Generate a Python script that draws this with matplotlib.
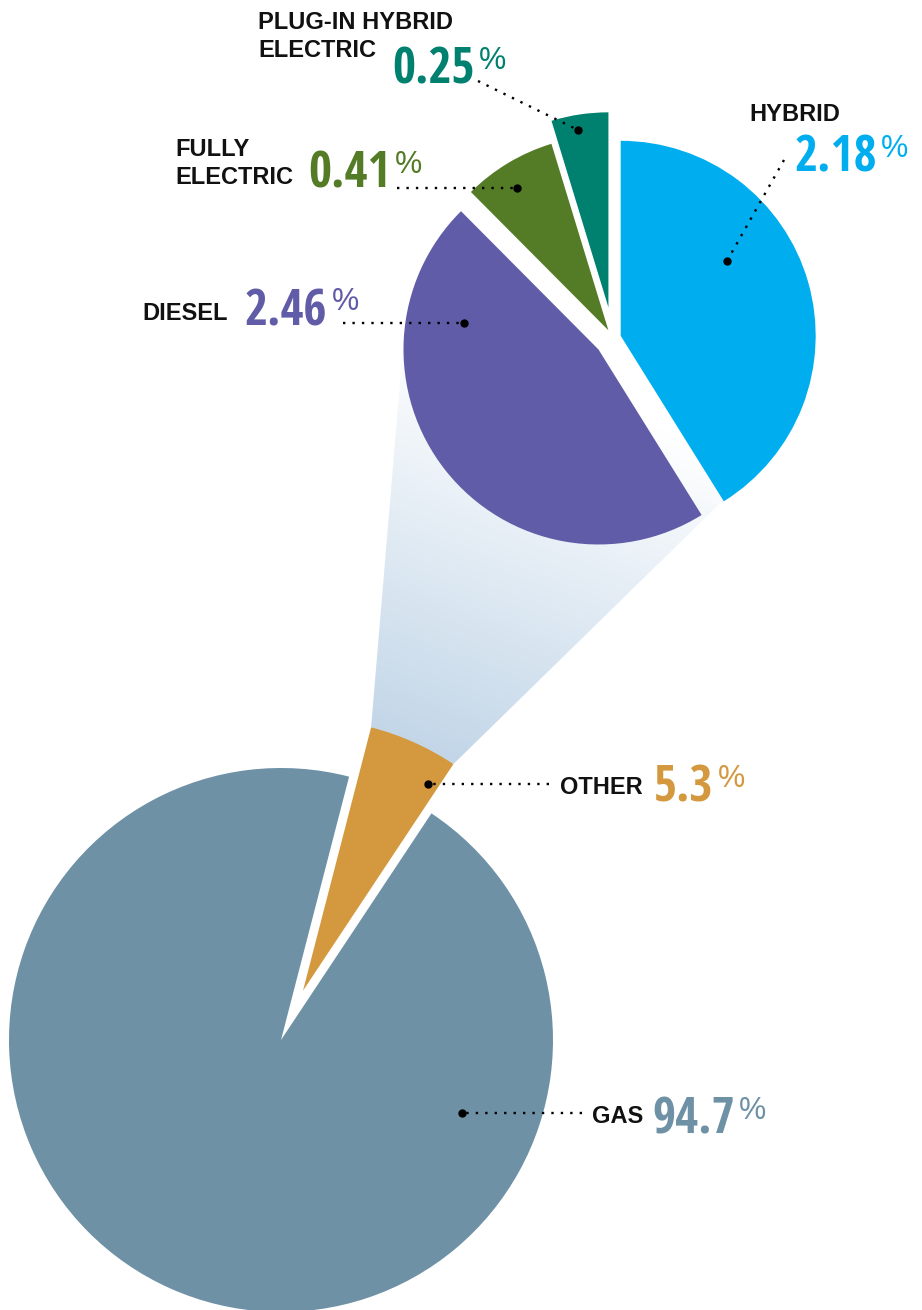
import numpy as np
import matplotlib
matplotlib.use("Agg")
import matplotlib.pyplot as plt
from matplotlib import font_manager as fm
from matplotlib.patches import Polygon
from matplotlib.colors import LinearSegmentedColormap

# ---- data -------------------------------------------------------------
main_labels = ["GAS", "OTHER"]
main_values = [94.7, 5.3]
main_colors = ["#6E91A6", "#D4983E"]

sub_labels = ["HYBRID", "DIESEL", "FULLY\nELECTRIC", "PLUG-IN HYBRID\nELECTRIC"]
sub_values = [2.18, 2.46, 0.41, 0.25]
sub_colors = ["#00AEEF", "#615CA8", "#547B25", "#00806E"]

# ---- canvas (one data unit = one pixel, y measured from the top) ------
W, H = 922, 1310
fig = plt.figure(figsize=(W / 100, H / 100), dpi=100)
ax = fig.add_axes([0, 0, 1, 1])


def Y(y):
    return H - y


# ---- main pie ---------------------------------------------------------
big_center, big_r = (281, Y(1040)), 272
main_wedges, _ = ax.pie(main_values, colors=main_colors, radius=big_r,
                        center=big_center, startangle=75.5, counterclock=True,
                        explode=[0, 54], frame=True,
                        wedgeprops=dict(linewidth=0, zorder=2))

# ---- breakdown pie ----------------------------------------------------
sub_center, sub_r = (613, Y(338)), 195
sub_wedges, _ = ax.pie(sub_values, colors=sub_colors, radius=sub_r,
                       center=sub_center, startangle=90, counterclock=False,
                       explode=[8.0, 18.5, 9.0, 31.0], frame=True,
                       wedgeprops=dict(linewidth=0, zorder=2))

ax.set_xlim(0, W)
ax.set_ylim(0, H)
ax.set_aspect("equal")
ax.axis("off")

# ---- gradient funnel from the "other" slice to the breakdown ----------
ow = main_wedges[1]
oc = np.array(ow.center)
corners = [oc + ow.r * np.array([np.cos(np.radians(a)), np.sin(np.radians(a))])
           for a in (ow.theta1, ow.theta2)]
p_right, p_left = sorted(corners, key=lambda p: -p[0])

dw = sub_wedges[1]
dc = np.array(dw.center)


def tangent_points(p, c, r):
    v = p - c
    d = np.hypot(*v)
    u = v / d
    a = np.arccos(r / d)
    out = []
    for s in (a, -a):
        rot = np.array([[np.cos(s), -np.sin(s)], [np.sin(s), np.cos(s)]])
        out.append(c + r * rot @ u)
    return out


t_left = min(tangent_points(p_left, dc, dw.r), key=lambda p: p[0])
t_right = max(tangent_points(p_right, dc, dw.r), key=lambda p: p[0])
funnel_pts = np.array([p_left, t_left, dc, t_right, p_right])
funnel = Polygon(funnel_pts, closed=True, facecolor="none", edgecolor="none")
ax.add_patch(funnel)

u = np.array([0.35, 0.94])
proj_lo = min(p_left @ u, p_right @ u)
proj_hi = max(t_left @ u, t_right @ u)
x0, y0 = funnel_pts.min(axis=0)
x1, y1 = funnel_pts.max(axis=0)
gx, gy = np.meshgrid(np.linspace(x0, x1, 300), np.linspace(y0, y1, 400))
tt = np.clip((gx * u[0] + gy * u[1] - proj_lo) / (proj_hi - proj_lo), 0, 1)
cmap = LinearSegmentedColormap.from_list("fade", ["#C2D6E8", "#FFFFFF"])
im = ax.imshow(tt, extent=(x0, x1, y0, y1), origin="lower", cmap=cmap,
               vmin=0, vmax=1, zorder=1, interpolation="bilinear", aspect="auto")
im.set_clip_path(funnel)
ax.set_xlim(0, W)
ax.set_ylim(0, H)

# ---- fonts --------------------------------------------------------------
BASES = ("Noto Sans", "DejaVu Sans", "Liberation Sans", "Roboto",
         "Open Sans", "Lato", "Inter")
EXTRA_OK = {"condensed", "semicondensed", "extracondensed", "narrow",
            "display", "semi", "extra", "ui", "cond"}


def glyph_metrics(path, text):
    """Ink width / height of `text` at a 100 px em."""
    f = fm.get_font(path)
    f.set_size(100, 72)
    f.set_text(text, 0.0)
    w, h = f.get_width_height()
    return w / 64.0, h / 64.0


def pick_face(target_ratio, weight_lo, weight_hi):
    """Sans face whose digit width-to-height ratio is closest to the target."""
    best = None
    for fe in fm.fontManager.ttflist:
        name = fe.name
        base = next((b for b in BASES if name.startswith(b)), None)
        if base is None:
            continue
        extra = name[len(base):].lower().replace("-", " ").split()
        if any(w not in EXTRA_OK for w in extra):
            continue
        if str(fe.style) != "normal" or not fe.fname.lower().endswith((".ttf", ".otf")):
            continue
        w = fe.weight if isinstance(fe.weight, (int, float)) else fm.weight_dict.get(fe.weight, 400)
        if not (weight_lo <= w <= weight_hi):
            continue
        try:
            dw_, dh_ = glyph_metrics(fe.fname, "0123456789")
        except Exception:
            continue
        if dh_ <= 0:
            continue
        ratio = dw_ / 10.0 / dh_
        score = abs(ratio - target_ratio)
        if best is None or score < best[0]:
            best = (score, fe.fname, ratio, dh_ / 100.0)
    return best


num_face = pick_face(0.58, 600, 800)

DIGIT_H = 37.0   # px, height of the large figures


def size_for(face, ink_px, text):
    fname, ratio = face[1], face[2]
    _, h100 = glyph_metrics(fname, text)
    target = ink_px
    if ratio > 0.62:
        target = ink_px * (0.62 / ratio) ** 0.5
    return target / (h100 / 100.0) * 0.72  # px -> pt at 100 dpi


if num_face:
    num_kw = dict(fontproperties=fm.FontProperties(
        fname=num_face[1], size=size_for(num_face, DIGIT_H, "0123456789")))
else:
    num_kw = dict(family=["Liberation Sans", "DejaVu Sans"], weight="bold", fontsize=32)
pct_kw = dict(family=["Liberation Sans", "DejaVu Sans"], fontsize=22)

lab_font = ["Liberation Sans", "DejaVu Sans"]
LINE_PITCH = 28  # px between stacked name lines

# layout per category: last-line baseline of the name, number anchor and
# alignment, leader (start, dot)
layout = {
    "GAS": dict(name=(592, 1123), num=(652, 1134), ha="left",
                lead=((582, 1113), (462, 1113))),
    "OTHER": dict(name=(560, 794), num=(654, 802), ha="left",
                  lead=((549, 784), (428, 784))),
    "HYBRID": dict(name=(749, 121), num=(877, 172), ha="right",
                   lead=((784, 160), (727, 261))),
    "DIESEL": dict(name=(142, 320), num=(245, 325), ha="left",
                   lead=((343, 323), (464, 323))),
    "FULLY\nELECTRIC": dict(name=(175, 184), num=(308, 188), ha="left",
                            lead=((397, 188), (517, 188))),
    "PLUG-IN HYBRID\nELECTRIC": dict(name=(258, 57), num=(392, 84), ha="left",
                                     lead=((478, 81), (578, 130))),
}

for names, values, colors in ((main_labels, main_values, main_colors),
                              (sub_labels, sub_values, sub_colors)):
    for name, val, col in zip(names, values, colors):
        lay = layout[name]
        lines = name.split("\n")
        nx, ny = lay["name"]
        for k, line in enumerate(lines):
            y_line = ny - (len(lines) - 1 - k) * LINE_PITCH
            ax.text(nx, Y(y_line), line, family=lab_font, weight="bold",
                    fontsize=17, color="#111111", ha="left", va="baseline",
                    zorder=5)
        num = ax.text(lay["num"][0], Y(lay["num"][1]), f"{val:g}",
                      color=col, ha=lay["ha"], va="baseline", zorder=5, **num_kw)
        ax.annotate("%", xy=(1, 1), xycoords=num, xytext=(3, 0),
                    textcoords="offset points", color=col, ha="left",
                    va="top", zorder=5, **pct_kw)
        (sx, sy), (dx, dy) = lay["lead"]
        ax.plot([sx, dx], [Y(sy), Y(dy)], color="black", lw=1.7,
                linestyle=(0, (1, 3.0)), zorder=6, solid_capstyle="butt")
        ax.plot([dx], [Y(dy)], marker="o", ms=5, color="black", zorder=7)

fig.savefig("out.png", dpi=100, facecolor="white")
